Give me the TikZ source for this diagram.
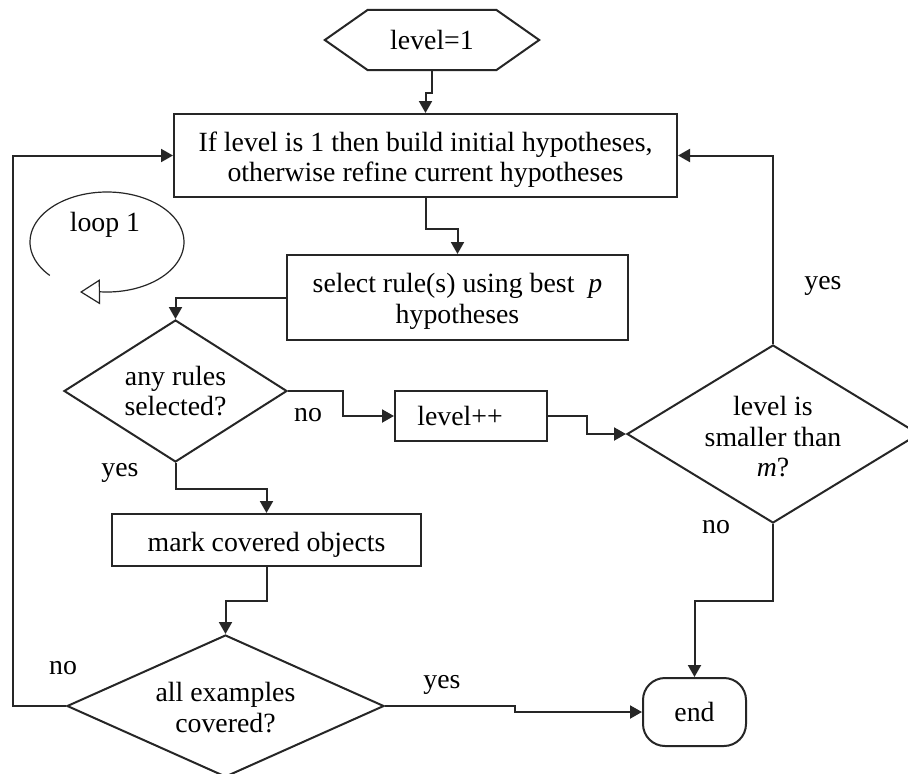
\documentclass[tikz,border=0pt]{standalone}
\usepackage{fontspec}
\setmainfont{Liberation Serif}
\usetikzlibrary{arrows.meta,shapes.geometric}

\tikzset{
  line/.style={draw=black!85, line width=2pt},
  arr/.style={line, -{Triangle[length=12pt,width=13pt]}},
  box/.style={line, rectangle, inner sep=0pt},
  dia/.style={line, diamond, inner sep=0pt},
  txt/.style={align=center, inner sep=0pt, text=black},
  lbl/.style={inner sep=0pt, text=black, text height=12.5pt, text depth=0pt},
}

\begin{document}
\begin{tikzpicture}[x=1pt, y=-1pt, font=\fontsize{27.8}{30.5}\selectfont]
\path[fill=white] (0,0) rectangle (908,774);
\useasboundingbox (0,0) rectangle (908,774);

% start: hexagon
\node[txt, minimum width=214pt, minimum height=60pt] (start) at (432,40) {level=1};
\draw[line] (start.west) -- ([xshift=43pt]start.north west) -- ([xshift=-43pt]start.north east)
  -- (start.east) -- ([xshift=-43pt]start.south east) -- ([xshift=43pt]start.south west) -- cycle;

% process boxes
\node[box, minimum width=503pt, minimum height=83pt] (hyp) at (425.5,155.5) {};
\node[txt] (hypt) at ([yshift=-4pt]hyp.center)
  {If level is 1 then build initial hypotheses,\\otherwise refine current hypotheses};
\node[box, minimum width=341pt, minimum height=85pt] (sel) at (457.5,297.5) {};
\node[txt] (selt) at ([yshift=-4pt]sel.center)
  {select rule(s) using best \ \textit{p}\\hypotheses};
\node[box, minimum width=152pt, minimum height=50pt] (inc) at (471,416) {};
\node[txt] (inct) at ([xshift=-11pt]inc.center) {level++};
\node[box, minimum width=309pt, minimum height=52pt] (mark) at (266.5,540) {};
\node[txt] (markt) at ([yshift=-4.5pt]mark.center) {mark covered objects};
\node[box, rounded corners=22pt, minimum width=103pt, minimum height=68pt] (end) at (694.5,712) {};
\node[txt] (endt) at (end.center) {end};

% decisions
\node[dia, minimum width=223pt, minimum height=142pt] (any) at (175.5,391) {};
\node[txt] (anyt) at (any.center) {any rules\\selected?};
\node[dia, minimum width=292pt, minimum height=178pt] (cmp) at (773,434) {};
\node[txt] (cmpt) at ([yshift=-3pt]cmp.center) {level is\\smaller than\\\textit{m}?};
\node[dia, minimum width=317pt, minimum height=142pt] (all) at (225.5,706) {};
\node[txt] (allt) at ([yshift=-1.5pt]all.center) {all examples\\covered?};

% connectors
\draw[arr] (start.south) -- ++(0,23) -| (hyp.north);
\draw[arr] (hyp.south) -- ++(0,31) -| (sel.north);
\draw[arr] (sel.west) -| (any.north);
\draw[arr] (any.east) -- ++(55,0) |- (inc.west);
\draw[arr] (inc.east) -- ++(39,0) |- (cmp.west);
\draw[arr] (cmp.north) |- (hyp.east);
\draw[arr] (cmp.south) -- ++(0,77) -| (end.north);
\draw[arr] (any.south) -- ++(0,26) -| (mark.north);
\draw[arr] (mark.south) -- ++(0,34) -| (all.north);
\draw[arr] (all.west) -- ++(-53,0) |- (hyp.west);
\draw[arr] (all.east) -- ++(130,0) |- (end.west);

% branch labels
\node[lbl] (l1) at (308,415) {no};
\node[lbl] (l2) at (120,470) {yes};
\node[lbl] (l3) at (823,283) {yes};
\node[lbl] (l4) at (716,527) {no};
\node[lbl] (l5) at (63,668) {no};
\node[lbl] (l6) at (442,682) {yes};

% loop marker
\node[txt] (loop) at (105,225) {loop 1};
\coordinate (looptip) at (80,292);
\draw[draw=black!85, line width=1.2pt, -{Triangle[open, length=20pt, width=25pt, fill=white]}]
  plot[domain=138:455, samples=90, smooth] ({107+77*cos(\x)},{242+50*sin(\x)}) -- (looptip);
\end{tikzpicture}
\end{document}
